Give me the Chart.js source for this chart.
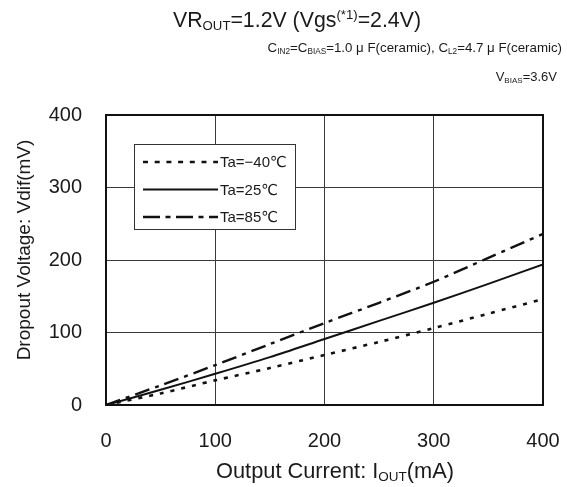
<!DOCTYPE html>
<html>
<head>
<meta charset="utf-8">
<script src="https://cdn.jsdelivr.net/npm/chart.js@4.4.1/dist/chart.umd.min.js"></script>
<style>
  html, body { margin: 0; padding: 0; background: #fff; }
  #wrap { position: relative; width: 567px; height: 487px; overflow: hidden; font-family: "Liberation Sans", "DejaVu Sans", sans-serif; color: #1a1a1a; }
  canvas { position: absolute; left: 0; top: 0; }
  .t { position: absolute; white-space: nowrap; line-height: 1; }
  .t sub { font-size: 62%; vertical-align: -0.22em; line-height: 0; }
  .t sup { font-size: 62%; vertical-align: 0.62em; line-height: 0; }
  #ytitle { width: 260px; height: 20px; left: -106px; top: 240px; text-align: center; transform: rotate(-90deg); transform-origin: 50% 50%; font-size: 19px; line-height: 20px; }
</style>
</head>
<body>
<div id="wrap">
  <canvas id="c" width="567" height="487"></canvas>
  <div class="t" id="title" style="left:173px; top:10px; font-size:21.3px;">VR<sub>OUT</sub>=1.2V (Vgs<sup>(*1)</sup>=2.4V)</div>
  <div class="t" id="sub1" style="right:5px; top:41px; font-size:13.3px;">C<sub>IN2</sub>=C<sub>BIAS</sub>=1.0 μ F(ceramic), C<sub>L2</sub>=4.7 μ F(ceramic)</div>
  <div class="t" id="sub2" style="right:10px; top:70px; font-size:13px;">V<sub>BIAS</sub>=3.6V</div>
  <div class="t" id="ytitle">Dropout Voltage: Vdif(mV)</div>
  <div class="t" id="xtitle" style="left:216px; top:460px; font-size:21.8px;">Output Current: I<sub>OUT</sub>(mA)</div>
</div>
<script>
const currents = [0, 50, 100, 150, 200, 250, 300, 350, 400];
const vdifMinus40 = [0, 16, 34, 51, 69, 87, 106, 126, 146];
const vdif25 = [0, 21, 43, 66, 91, 116, 141, 167, 194];
const vdif85 = [0, 27, 55, 84, 113, 141, 170, 203, 236];
const seriesLabels = ["Ta=−40℃", "Ta=25℃", "Ta=85℃"];
const xTicks = [0, 100, 200, 300, 400];
const yTicks = [0, 100, 200, 300, 400];

const FONT = '"Liberation Sans", "DejaVu Sans", sans-serif';
const toPts = (ys) => currents.map((x, i) => ({x: x, y: ys[i]}));

const legendPlugin = {
  id: 'boxLegend',
  afterDatasetsDraw(chart) {
    const ctx = chart.ctx;
    const x0 = 134, y0 = 144, w = 161, h = 85;
    ctx.save();
    ctx.fillStyle = '#fff';
    ctx.fillRect(x0, y0, w, h);
    ctx.strokeStyle = '#333';
    ctx.lineWidth = 1;
    ctx.setLineDash([]);
    ctx.strokeRect(x0 + 0.5, y0 + 0.5, w, h);
    chart.data.datasets.forEach((ds, i) => {
      const y = y0 + 18 + i * 27.5;
      ctx.beginPath();
      ctx.setLineDash(ds.legendDash || []);
      ctx.lineWidth = ds.borderWidth;
      ctx.strokeStyle = ds.borderColor;
      ctx.moveTo(143, y);
      ctx.lineTo(218, y);
      ctx.stroke();
      ctx.setLineDash([]);
      ctx.fillStyle = '#1a1a1a';
      ctx.font = '15px ' + FONT;
      ctx.textBaseline = 'middle';
      ctx.textAlign = 'left';
      ctx.fillText(ds.label, 220, y + 1);
    });
    ctx.restore();
  }
};

new Chart(document.getElementById('c'), {
  type: 'line',
  data: {
    datasets: [
      { label: seriesLabels[0], data: toPts(vdifMinus40), borderColor: '#111', borderWidth: 2.6, borderDash: [4, 7], legendDash: [5, 6.7], pointRadius: 0, tension: 0.3, fill: false },
      { label: seriesLabels[1], data: toPts(vdif25), borderColor: '#111', borderWidth: 2, pointRadius: 0, tension: 0.3, fill: false },
      { label: seriesLabels[2], data: toPts(vdif85), borderColor: '#111', borderWidth: 2.4, borderDash: [15, 6, 4, 6], legendDash: [17, 5.5, 5, 5.5], pointRadius: 0, tension: 0.3, fill: false }
    ]
  },
  options: {
    responsive: false,
    animation: false,
    devicePixelRatio: 1,
    layout: { autoPadding: false, padding: { left: 0, right: 24, top: 115, bottom: 0 } },
    plugins: { legend: { display: false }, tooltip: { enabled: false }, title: { display: false } },
    scales: {
      x: {
        type: 'linear', min: 0, max: 400,
        afterBuildTicks: (s) => { s.ticks = xTicks.map(v => ({value: v})); },
        afterFit: (s) => { s.height = 82; s.paddingLeft = 0; s.paddingRight = 0; },
        grid: { color: '#3a3a3a', lineWidth: 1, drawTicks: false },
        border: { color: '#111', width: 2 },
        ticks: { color: '#1a1a1a', font: { family: FONT, size: 20 }, padding: 24, maxRotation: 0 }
      },
      y: {
        type: 'linear', min: 0, max: 400,
        afterBuildTicks: (s) => { s.ticks = yTicks.map(v => ({value: v})); },
        afterFit: (s) => { s.width = 106; s.paddingTop = 0; s.paddingBottom = 0; },
        grid: { color: '#3a3a3a', lineWidth: 1, drawTicks: false },
        border: { color: '#111', width: 2 },
        ticks: { color: '#1a1a1a', font: { family: FONT, size: 20 }, padding: 24 }
      }
    }
  },
  plugins: [legendPlugin, {
    id: 'frame',
    afterDraw(chart) {
      const a = chart.chartArea, ctx = chart.ctx;
      ctx.save();
      ctx.strokeStyle = '#111';
      ctx.lineWidth = 2;
      ctx.strokeRect(a.left, a.top, a.right - a.left, a.bottom - a.top);
      ctx.restore();
    }
  }]
});
</script>
</body>
</html>
